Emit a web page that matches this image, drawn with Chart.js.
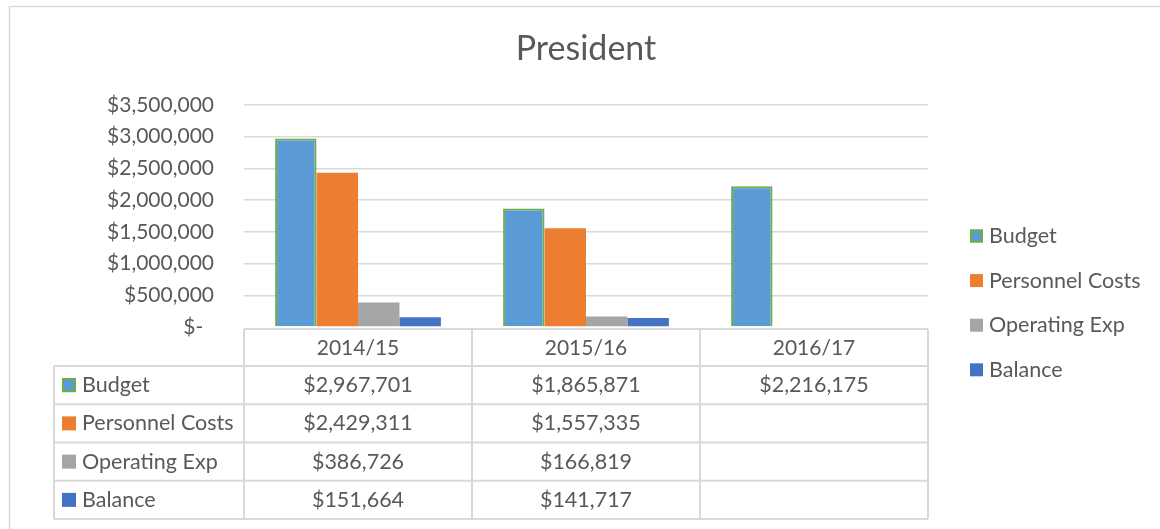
<!DOCTYPE html>
<html lang="en">
<head>
  <meta charset="UTF-8">
  <title>President</title>
  <script src="https://cdn.jsdelivr.net/npm/chart.js"></script>
  <style>
    html, body { margin: 0; padding: 0; background: #fff; }
    #wrap { width: 1160px; height: 529px; position: relative; }
  </style>
</head>
<body>
  <div id="wrap"><canvas id="presChart"></canvas></div>

  <script>
    // chart data
    const years = ['2014/15', '2015/16', '2016/17'];
    const seriesNames = ['Budget', 'Personnel Costs', 'Operating Exp', 'Balance'];
    const budget = [2967701, 1865871, 2216175];
    const personnelCosts = [2429311, 1557335, null];
    const operatingExp = [386726, 166819, null];
    const balance = [151664, 141717, null];
    const yTickValues = [0, 500000, 1000000, 1500000, 2000000, 2500000, 3000000, 3500000];

    const fills = ['#5B9BD5', '#ED7D31', '#A5A5A5', '#4472C4'];
    const budgetEdge = '#70AD47';
    const textColor = '#595959';
    const lineColor = '#d9d9d9';
    const FONT = 'Lato, "Open Sans", sans-serif';

    const money = v => '$' + v.toLocaleString('en-US');

    // draws the frame, the data table under the axis and the legend on the right
    const excelExtras = {
      id: 'excelExtras',
      beforeDraw(chart) {
        const ctx = chart.ctx;
        ctx.save();
        ctx.strokeStyle = lineColor;
        ctx.lineWidth = 1.5;
        ctx.strokeRect(9.5, 6.5, 1200, 600);
        ctx.restore();
      },
      afterDraw(chart) {
        const { ctx, chartArea } = chart;
        const x = chart.scales.x;
        const sets = chart.data.datasets;
        const catW = x.width / years.length;
        const headTop = chartArea.bottom + 2;
        const rowTop = 366;
        const rowH = 38.25;
        const tableLeft = 54;
        const tableBottom = rowTop + rowH * sets.length;

        ctx.save();
        ctx.strokeStyle = lineColor;
        ctx.lineWidth = 2;
        ctx.beginPath();
        // header row top line
        ctx.moveTo(x.left, headTop);
        ctx.lineTo(x.right, headTop);
        // row lines
        for (let k = 0; k <= sets.length; k++) {
          const y = rowTop + k * rowH;
          ctx.moveTo(tableLeft, y);
          ctx.lineTo(x.right, y);
        }
        // left column edge
        ctx.moveTo(tableLeft, rowTop);
        ctx.lineTo(tableLeft, tableBottom);
        // category column edges
        for (let i = 0; i <= years.length; i++) {
          const cx = x.left + i * catW;
          ctx.moveTo(cx, headTop);
          ctx.lineTo(cx, tableBottom);
        }
        ctx.stroke();

        ctx.font = '21.5px ' + FONT;
        ctx.textBaseline = 'middle';
        sets.forEach((ds, r) => {
          const cy = rowTop + r * rowH + rowH / 2;
          // legend key in the table
          drawKey(ctx, 62, cy - 7, 14, ds);
          ctx.fillStyle = textColor;
          ctx.textAlign = 'left';
          ctx.fillText(ds.label, 82, cy);
          // values
          ctx.textAlign = 'center';
          ds.data.forEach((v, i) => {
            if (v === null) return;
            ctx.fillText(money(v), x.getPixelForValue(i), cy);
          });
        });

        // legend at right
        sets.forEach((ds, r) => {
          const cy = 236 + r * 44.6;
          drawKey(ctx, 970, cy - 6.5, 13, ds);
          ctx.fillStyle = textColor;
          ctx.textAlign = 'left';
          ctx.fillText(ds.label, 989, cy);
        });
        ctx.restore();
      }
    };

    function drawKey(ctx, kx, ky, size, ds) {
      ctx.fillStyle = ds.backgroundColor;
      ctx.fillRect(kx, ky, size, size);
      if (ds.borderWidth) {
        ctx.strokeStyle = ds.borderColor;
        ctx.lineWidth = 2;
        ctx.strokeRect(kx + 1, ky + 1, size - 2, size - 2);
      }
    }

    const seriesData = [budget, personnelCosts, operatingExp, balance];

    new Chart(document.getElementById('presChart'), {
      type: 'bar',
      data: {
        labels: years,
        datasets: seriesNames.map((name, i) => ({
          label: name,
          data: seriesData[i],
          backgroundColor: fills[i],
          borderColor: i === 0 ? budgetEdge : fills[i],
          borderWidth: i === 0 ? 2 : 0,
          categoryPercentage: 4 / 5.5,
          barPercentage: 1
        }))
      },
      options: {
        responsive: true,
        maintainAspectRatio: false,
        animation: false,
        layout: { padding: { top: 0, left: 0, right: 232, bottom: 0 } },
        plugins: {
          legend: { display: false },
          tooltip: { enabled: false },
          title: {
            display: true,
            text: 'President',
            fullSize: false,
            color: textColor,
            font: { family: FONT, size: 34, weight: 'normal' },
            padding: { top: 29, bottom: 35 }
          }
        },
        scales: {
          x: {
            grid: { display: false },
            border: { display: false },
            ticks: {
              color: textColor,
              font: { family: FONT, size: 21 },
              padding: 1,
              maxRotation: 0
            },
            afterFit: s => { s.height = 202; }
          },
          y: {
            min: 0,
            max: 3500000,
            afterBuildTicks: s => { s.ticks = yTickValues.map(v => ({ value: v })); },
            grid: {
              drawTicks: false,
              color: c => c.tick && c.tick.value === 0 ? 'rgba(0,0,0,0)' : lineColor,
              lineWidth: 1.5
            },
            border: { display: false },
            ticks: {
              color: textColor,
              font: { family: FONT, size: 21 },
              padding: 30,
              callback: v => v === 0 ? '$-  ' : money(v)
            },
            afterFit: s => { s.width = 244; }
          }
        }
      },
      plugins: [excelExtras]
    });
  </script>
</body>
</html>
